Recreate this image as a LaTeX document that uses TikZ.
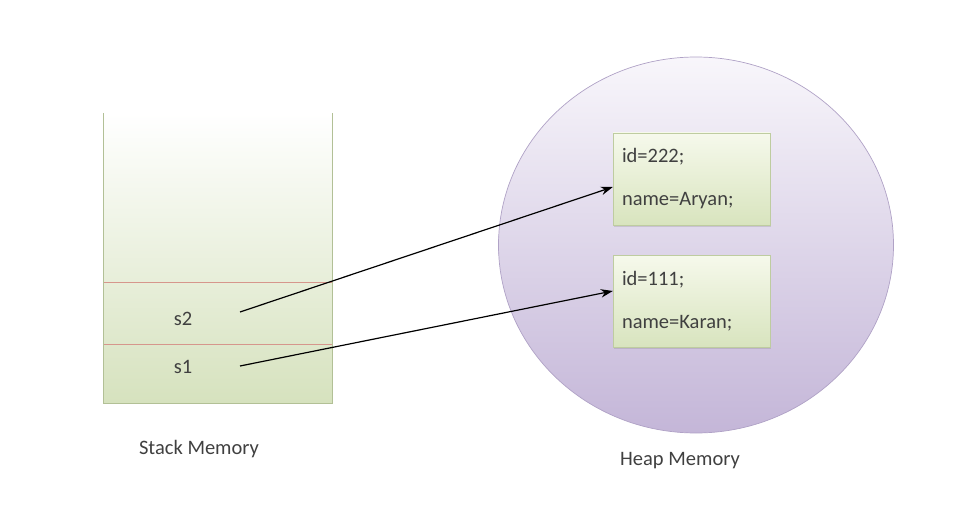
\documentclass[tikz,border=0pt]{standalone}
\usepackage{fontspec}
\setmainfont{Carlito}
\usepackage{tikz}
\usetikzlibrary{arrows.meta}
\usetikzlibrary{shapes.geometric}
\usetikzlibrary{shadows}
\definecolor{stackbot}{RGB}{214,226,190}
\definecolor{stackline}{RGB}{178,192,150}
\definecolor{slotline}{RGB}{214,150,140}
\definecolor{heaptop}{RGB}{248,246,251}
\definecolor{heapbot}{RGB}{196,182,216}
\definecolor{heapline}{RGB}{176,162,198}
\definecolor{objtop}{RGB}{246,249,236}
\definecolor{objbot}{RGB}{216,228,190}
\definecolor{objline}{RGB}{190,204,160}

\begin{document}
\begin{tikzpicture}[x=1pt,y=1pt,
    lbl/.style={text=black!75,font=\fontsize{20.5}{23}\selectfont},
    obj/.style={lbl,draw=objline,top color=objtop,bottom color=objbot,
      drop shadow={shadow xshift=1pt,shadow yshift=-2pt,opacity=0.25},
      align=left,text width=139pt,inner xsep=9pt,minimum height=92pt},
    ptr/.style={-{Stealth[length=12pt,width=8.5pt]},line width=1.2pt}]
    \useasboundingbox (0,0) rectangle (953,523);
    %
    \node[inner sep=0pt,minimum width=228pt,minimum height=290pt,
      top color=white,bottom color=stackbot] (stack) at (218,265) {};
    \draw[stackline,line width=0.8pt] (stack.north west) -- (stack.south west)
      -- (stack.south east) -- (stack.north east);
    \draw[slotline,line width=0.7pt] (104,241) -- (332,241);
    \draw[slotline,line width=0.7pt] (104,179) -- (332,179);
    \node[lbl] (s2) at (183,204) {s2};
    \node[lbl] (s1) at (183,156) {s1};
    \coordinate (s2ptr) at (240,211);
    \coordinate (s1ptr) at (240,157);
    \node[lbl] (stacklbl) at (199,74) {Stack Memory};
    %
    \node[ellipse,draw=heapline,line width=0.7pt,minimum width=395pt,minimum height=376pt,
      top color=heaptop,bottom color=heapbot] (heap) at (696,278) {};
    \node[obj] (aryan) at (691.5,344) {id=222;\\[20pt]name=Aryan;};
    \node[obj] (karan) at (691.5,222) {id=111;\\[20pt]name=Karan;};
    \node[lbl] (heaplbl) at (680,62) {Heap Memory};
    %
    \draw[ptr] (s2ptr) -- ([yshift=-8pt]aryan.west);
    \draw[ptr] (s1ptr) -- ([yshift=10pt]karan.west);
\end{tikzpicture}
\end{document}
